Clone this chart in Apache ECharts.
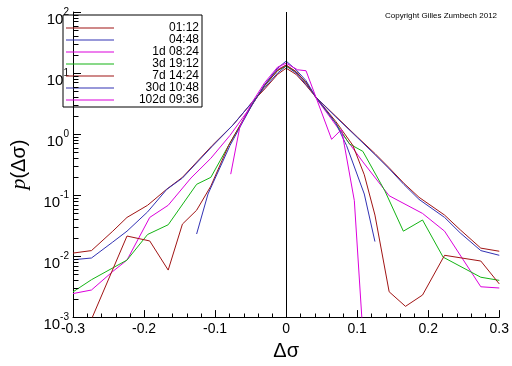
<!DOCTYPE html>
<html><head><meta charset="utf-8">
<script src="https://cdn.jsdelivr.net/npm/echarts@6/dist/echarts.min.js"></script>
<style>html,body{margin:0;padding:0;background:#fff}#c{width:512px;height:366px}</style>
</head><body><div id="c"></div>
<script>
// ---- data ----
const seriesNames = ['01:12','04:48','1d 08:24','3d 19:12','7d 14:24','30d 10:48','102d 09:36'];
const seriesColors = ['#a01414','#3232b4','#dc00dc','#14b414','#a01414','#3232b4','#dc00dc'];

const x_0112 = [-0.3,-0.274,-0.244,-0.224,-0.195,-0.168,-0.146,-0.104,-0.075,-0.048,-0.03,-0.012,0,0.014,0.028,0.042,0.07,0.1,0.125,0.145,0.166,0.187,0.223,0.245,0.274,0.3];
const p_0112 = [0.0112,0.0123,0.0256,0.043,0.068,0.125,0.195,0.65,1.4,3.3,5.5,9.5,12,9.5,6.3,4.0,1.95,0.9,0.48,0.28,0.155,0.092,0.047,0.027,0.0135,0.012];

const x_0448 = [-0.3,-0.274,-0.244,-0.224,-0.195,-0.168,-0.146,-0.104,-0.075,-0.048,-0.03,-0.012,0,0.014,0.028,0.042,0.07,0.1,0.125,0.145,0.166,0.187,0.223,0.245,0.274,0.3];
const p_0448 = [0.0087,0.0093,0.017,0.0256,0.053,0.124,0.19,0.63,1.4,3.3,5.8,10,13,10,6.5,4.0,1.9,0.88,0.46,0.27,0.148,0.085,0.043,0.024,0.0123,0.0103];

const x_1d = [-0.3,-0.274,-0.244,-0.224,-0.192,-0.166,-0.134,-0.106,-0.079,-0.048,-0.03,-0.012,0,0.014,0.028,0.042,0.07,0.108,0.145,0.192,0.223,0.274,0.3];
const p_1d = [0.00243,0.00278,0.0056,0.0086,0.043,0.068,0.19,0.4,0.95,3.0,6.5,11.5,13.5,10.5,7,3.9,1.4,0.35,0.0975,0.05,0.0256,0.00314,0.003];

const x_3d = [-0.3,-0.274,-0.224,-0.195,-0.166,-0.126,-0.106,-0.081,-0.048,-0.03,-0.012,0,0.014,0.028,0.042,0.07,0.089,0.108,0.139,0.165,0.192,0.221,0.274,0.3];
const p_3d = [0.00259,0.0041,0.0086,0.0226,0.0326,0.15,0.195,0.65,3.1,6.2,11,13,10.5,7,4.0,1.5,0.69,0.52,0.117,0.0256,0.039,0.0096,0.0045,0.004];

const x_7d = [-0.3,-0.224,-0.192,-0.166,-0.146,-0.126,-0.106,-0.081,-0.048,-0.03,-0.012,0,0.014,0.028,0.042,0.07,0.094,0.11,0.125,0.145,0.168,0.192,0.223,0.274,0.3];
const p_7d = [0.00018,0.0213,0.0177,0.0059,0.0334,0.0564,0.14,0.65,3.0,6.3,11,13.5,10.5,7,4.0,1.6,0.65,0.215,0.047,0.0026,0.0015,0.0023,0.0103,0.0083,0.0035];

const x_30d = [-0.126,-0.11,-0.079,-0.048,-0.03,-0.012,0,0.014,0.028,0.042,0.07,0.085,0.11,0.125];
const p_30d = [0.023,0.104,0.65,3.0,6.5,12,15.7,11.3,7.5,4.0,1.5,0.65,0.104,0.0173];

const x_102d = [-0.078,-0.065,-0.048,-0.03,-0.012,0,0.016,0.028,0.042,0.064,0.078,0.096,0.112];
const p_102d = [0.22,1.34,3.3,7,12.5,14.5,11.3,10.9,4.0,0.82,1.19,0.081,0.0001];

// minor tick values: 2..9 in each decade (y), every 0.02 (x)
const yDecades = [0.001,0.01,0.1,1,10];
const yMinorMult = [2,3,4,5,6,7,8,9];
const xMinorStep = 0.02;

const xs = [x_0112,x_0448,x_1d,x_3d,x_7d,x_30d,x_102d];
const ps = [p_0112,p_0448,p_1d,p_3d,p_7d,p_30d,p_102d];

const chart = echarts.init(document.getElementById('c'), null, {renderer:'canvas'});
const font = 'Liberation Sans, Arial, sans-serif';

const series = seriesNames.map((n, i) => ({
  name: n, type: 'line', symbol: 'none', showSymbol: false, clip: true,
  data: xs[i].map((x, j) => [x, ps[i][j]]),
  lineStyle: {color: seriesColors[i], width: 1},
  itemStyle: {color: seriesColors[i]},
  z: 2
}));
series[0].markLine = {
  silent: true, symbol: 'none', label: {show: false}, animation: false,
  lineStyle: {color: '#000', type: 'solid', width: 1},
  data: [{xAxis: 0}], z: 5
};

chart.setOption({
  animation: false,
  backgroundColor: '#fff',
  grid: {left: 51, right: 11, top: 12, bottom: 39},
  legend: {
    orient: 'vertical', left: 63, top: 15,
    padding: [7, 3, 1, 3],
    borderColor: '#000', borderWidth: 1,
    icon: 'rect', itemWidth: 48, itemHeight: 1, itemGap: 0,
    data: seriesNames,
    formatter: n => '{a|' + n + '}',
    textStyle: {
      fontFamily: font, fontSize: 12, color: '#000',
      rich: {a: {width: 80, align: 'right', fontFamily: font, fontSize: 12, lineHeight: 15}}
    }
  },
  xAxis: {
    type: 'value', min: -0.3, max: 0.3, interval: 0.1,
    axisLine: {show: true, onZero: false, lineStyle: {color: '#000', width: 1}},
    axisTick: {show: true, inside: true, length: 7, lineStyle: {color: '#000', width: 1}},
    splitLine: {show: false},
    axisLabel: {
      color: '#000', fontFamily: font, fontSize: 14, margin: 5,
      formatter: v => Math.abs(v) < 1e-9 ? '0' : (Math.round(v * 10) / 10).toFixed(1)
    },
    name: 'Δσ', nameLocation: 'middle', nameGap: 23,
    nameTextStyle: {color: '#000', fontFamily: font, fontSize: 20}
  },
  yAxis: {
    type: 'log', logBase: 10, min: 0.001, max: 100,
    axisLine: {show: true, onZero: false, lineStyle: {color: '#000', width: 1}},
    axisTick: {show: true, inside: true, length: 8, lineStyle: {color: '#000', width: 1}},
    splitLine: {show: false},
    axisLabel: {
      margin: 4, padding: [10, 0, 0, 0],
      formatter: v => '{b|10}{s|' + Math.round(Math.log10(v)) + '}',
      rich: {
        b: {fontFamily: font, fontSize: 15, color: '#000', lineHeight: 20, verticalAlign: 'bottom'},
        s: {fontFamily: font, fontSize: 10, color: '#000', lineHeight: 20, verticalAlign: 'top'}
      }
    },
    name: '{i|p}{n|(Δσ)}', nameLocation: 'middle', nameGap: 43, nameRotate: 90,
    nameTextStyle: {
      rich: {
        i: {fontFamily: 'Liberation Serif, serif', fontStyle: 'italic', fontSize: 22, color: '#000'},
        n: {fontFamily: font, fontSize: 20, color: '#000'}
      }
    }
  },
  series: series
});

// minor ticks placed through the chart's own scales
const gfx = [{
  type: 'text', left: 385, top: 12,
  style: {text: 'Copyright Gilles Zumbech 2012', fontFamily: font, fontSize: 8, fill: '#000'}
}];
const xLeft = Math.round(chart.convertToPixel({xAxisIndex: 0}, -0.3)) + 0.5;
const yBottom = Math.round(chart.convertToPixel({yAxisIndex: 0}, 0.001)) + 0.5;
yDecades.forEach(d => yMinorMult.forEach(k => {
  const y = Math.round(chart.convertToPixel({yAxisIndex: 0}, d * k)) + 0.5;
  gfx.push({type: 'line', silent: true, z: 10, shape: {x1: xLeft, y1: y, x2: xLeft + 5, y2: y}, style: {stroke: '#000', lineWidth: 1}});
}));
for (let k = 0; k <= 30; k++) {
  if (k % 5 === 0) continue;
  const x = Math.round(chart.convertToPixel({xAxisIndex: 0}, -0.3 + k * xMinorStep)) + 0.5;
  gfx.push({type: 'line', silent: true, z: 10, shape: {x1: x, y1: yBottom, x2: x, y2: yBottom - 4}, style: {stroke: '#000', lineWidth: 1}});
}
chart.setOption({graphic: gfx});
</script></body></html>
